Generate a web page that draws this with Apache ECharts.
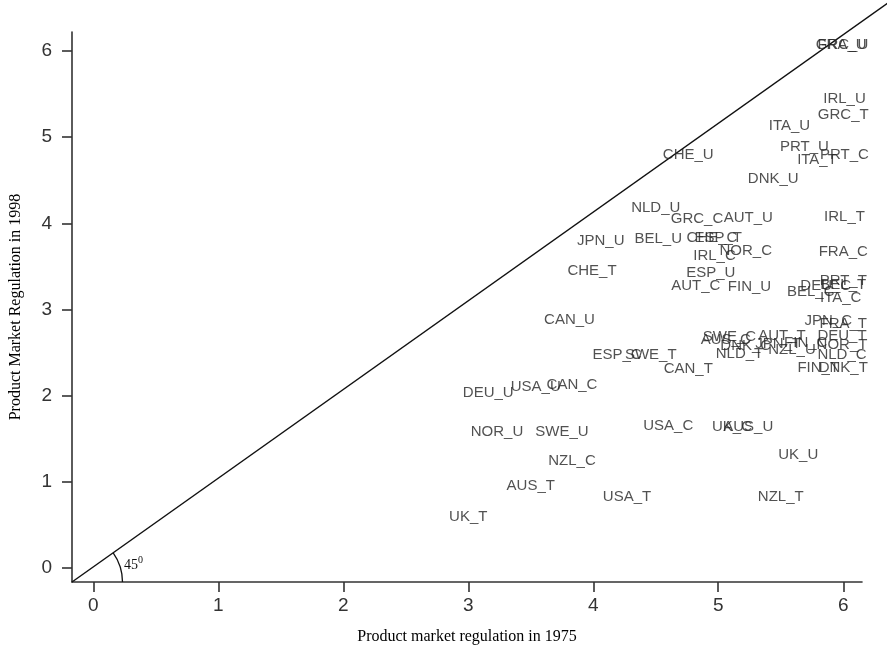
<!DOCTYPE html>
<html>
<head>
<meta charset="utf-8">
<script src="https://cdn.jsdelivr.net/npm/echarts@6/dist/echarts.min.js"></script>
<style>
html,body{margin:0;padding:0;background:#fff;}
#chart{width:887px;height:651px;}
</style>
</head>
<body>
<div id="chart"></div>
<script>
// ---- data ----
const labels = ["GRC_U","FRA_U","IRL_U","GRC_T","ITA_U","PRT_U","ITA_T","PRT_C","CHE_U","DNK_U",
  "NLD_U","GRC_C","AUT_U","IRL_T","JPN_U","BEL_U","CHE_C","ESP_T","IRL_C","NOR_C",
  "FRA_C","CHE_T","ESP_U","AUT_C","FIN_U","PRT_T","DEU_C","BEL_T","BEL_C","ITA_C",
  "CAN_U","JPN_C","FRA_T","SWE_C","AUS_C","AUT_T","DEU_T","DNK_C","JPN_T","FIN_C",
  "NZL_U","NOR_T","NLD_T","NLD_C","ESP_C","SWE_T","CAN_T","FIN_T","DNK_T","DEU_U",
  "USA_U","CAN_C","USA_C","UK_C","AUS_U","NOR_U","SWE_U","UK_U","NZL_C","AUS_T",
  "USA_T","NZL_T","UK_T"];
const pmr1975 = [5.99,5.99,6.01,6.00,5.57,5.69,5.79,6.01,4.76,5.44,
  4.50,4.83,5.24,6.01,4.06,4.52,4.95,5.00,4.97,5.22,
  6.00,3.99,4.94,4.82,5.25,6.00,5.86,6.00,5.74,5.98,
  3.81,5.88,6.00,5.09,5.06,5.51,5.99,5.22,5.48,5.70,
  5.59,5.99,5.17,5.99,4.19,4.46,4.76,5.80,6.00,3.16,
  3.54,3.83,4.60,5.11,5.24,3.23,3.75,5.64,3.83,3.50,
  4.27,5.50,3.00];
const pmr1998 = [6.07,6.07,5.44,5.26,5.13,4.89,4.74,4.80,4.80,4.52,
  4.18,4.05,4.06,4.07,3.80,3.82,3.83,3.83,3.62,3.68,
  3.67,3.45,3.43,3.28,3.26,3.33,3.28,3.29,3.21,3.14,
  2.88,2.87,2.84,2.68,2.65,2.70,2.70,2.58,2.60,2.61,
  2.53,2.59,2.49,2.47,2.47,2.47,2.31,2.32,2.32,2.03,
  2.10,2.13,1.65,1.64,1.64,1.58,1.58,1.32,1.25,0.95,
  0.83,0.83,0.60];
const xTicks = [0,1,2,3,4,5,6];
const yTicks = [0,1,2,3,4,5,6];
const diagX = [-0.17, 6.36];
const diagY = [-0.16, 6.56];

const points = labels.map((n,i)=>({name:n, value:[pmr1975[i], pmr1998[i]]}));
const diag = diagX.map((x,i)=>[x, diagY[i]]);

const chart = echarts.init(document.getElementById('chart'));
const axisCol = '#333';
const sans = 'Liberation Sans, Arial, sans-serif';
const serif = 'Liberation Serif, Times New Roman, serif';
chart.setOption({
  animation:false,
  backgroundColor:'#fff',
  grid:{left:70.5, right:25, top:32, bottom:69},
  xAxis:{
    type:'value', min:-0.17, max:6.15,
    name:'Product market regulation in 1975', nameLocation:'middle', nameGap:47,
    nameTextStyle:{fontFamily:serif, fontSize:16, color:'#000'},
    axisLine:{show:true, onZero:false, lineStyle:{color:axisCol, width:1.6}},
    axisTick:{show:true, length:10, customValues:xTicks, lineStyle:{color:axisCol, width:1.6}},
    axisLabel:{customValues:xTicks, margin:14, fontSize:19, color:'#333', fontFamily:sans},
    splitLine:{show:false}
  },
  yAxis:{
    type:'value', min:-0.16, max:6.22,
    name:'Product Market Regulation in 1998', nameLocation:'middle', nameGap:48, nameRotate:90,
    nameTextStyle:{fontFamily:serif, fontSize:16, color:'#000'},
    axisLine:{show:true, onZero:false, lineStyle:{color:axisCol, width:1.6}},
    axisTick:{show:true, length:10, customValues:yTicks, lineStyle:{color:axisCol, width:1.6}},
    axisLabel:{customValues:yTicks, margin:20, fontSize:19, color:'#333', fontFamily:sans},
    splitLine:{show:false}
  },
  series:[
    {
      type:'scatter', data:points, symbolSize:1, itemStyle:{color:'rgba(0,0,0,0)'},
      label:{show:true, position:'inside', formatter:'{b}', fontSize:15, color:'#262626',
        fontFamily:sans},
      z:2
    }
  ]
});

// 45 degree reference line and arc annotation (positions via the chart's scales)
const o = chart.convertToPixel({gridIndex:0}, diag[0]);
const e = chart.convertToPixel({gridIndex:0}, diag[1]);
const ang = Math.atan2(e[1]-o[1], e[0]-o[0]);
chart.setOption({
  graphic:[
    {type:'line', shape:{x1:o[0], y1:o[1], x2:e[0], y2:e[1]}, style:{stroke:'#111', lineWidth:1.5}, z:1},
    {type:'arc', shape:{cx:o[0], cy:o[1], r:50.5, startAngle:ang, endAngle:0, clockwise:true},
     style:{stroke:'#111', lineWidth:1.3, fill:null}, z:10},
    {type:'text', x:o[0]+52, y:o[1]-24, style:{text:'45', fontSize:14, fill:'#111', fontFamily:serif}},
    {type:'text', x:o[0]+66, y:o[1]-27, style:{text:'0', fontSize:10, fill:'#111', fontFamily:serif}}
  ]
});
</script>
</body>
</html>
